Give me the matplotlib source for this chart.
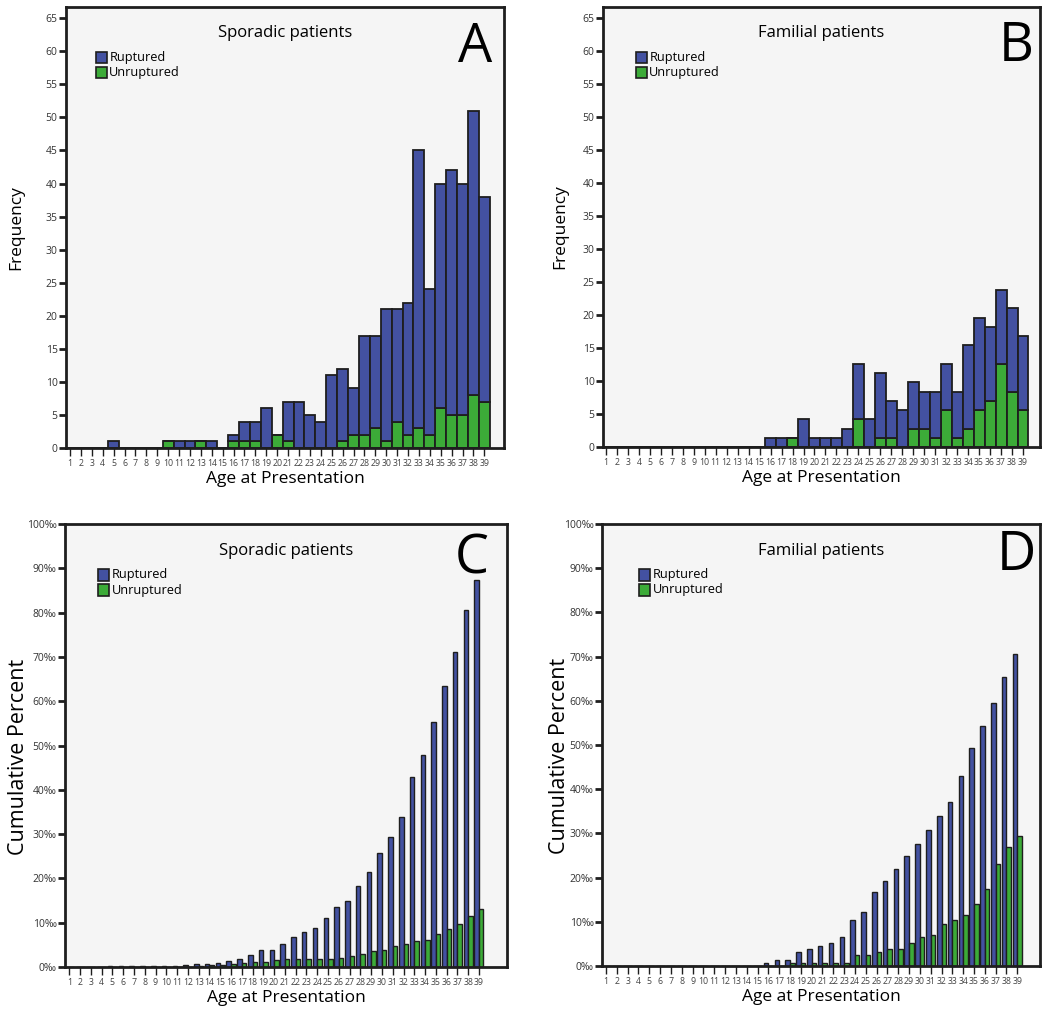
import matplotlib.pyplot as plt
import numpy as np

plt.rcParams['font.family'] = ['Open Sans', 'DejaVu Sans']

ages = np.arange(1, 40)
age_labels = [str(a) for a in ages]

# panel A: sporadic frequency (total height, unruptured part)
spor_total = [0, 0, 0, 0, 1, 0, 0, 0, 0, 1, 1, 1, 1, 1, 0, 2, 4, 4, 6, 2,
              7, 7, 5, 4, 11, 12, 9, 17, 17, 21, 21, 22, 45, 24, 40, 42, 40, 51, 38]
spor_unrup = [0, 0, 0, 0, 0, 0, 0, 0, 0, 1, 0, 0, 1, 0, 0, 1, 1, 1, 0, 2,
              1, 0, 0, 0, 0, 1, 2, 2, 3, 1, 4, 2, 3, 2, 6, 5, 5, 8, 7]

# panel B: familial frequency
fam_total = [0, 0, 0, 0, 0, 0, 0, 0, 0, 0, 0, 0, 0, 0, 0, 1.4, 1.4, 1.4, 4.2, 1.4,
             1.4, 1.4, 2.8, 12.6, 4.2, 11.2, 7.0, 5.6, 9.8, 8.4, 8.4, 12.6, 8.4, 15.4,
             19.6, 18.2, 23.8, 21.0, 16.8]
fam_unrup = [0, 0, 0, 0, 0, 0, 0, 0, 0, 0, 0, 0, 0, 0, 0, 0, 0, 1.4, 0, 0,
             0, 0, 0, 4.2, 0, 1.4, 1.4, 0, 2.8, 2.8, 1.4, 5.6, 1.4, 2.8,
             5.6, 7.0, 12.6, 8.4, 5.6]

# panel C: sporadic cumulative percent
spor_cum_rup = [0, 0, 0, 0, 0.2, 0.2, 0.2, 0.2, 0.2, 0.2, 0.2, 0.5, 0.75, 0.75, 1.0,
                1.3, 1.9, 2.6, 3.8, 3.8, 5.2, 6.7, 7.8, 8.7, 11.1, 13.5, 15.0, 18.3,
                21.4, 25.7, 29.4, 33.8, 43.0, 47.9, 55.2, 63.4, 71.0, 80.5, 87.3]
spor_cum_unrup = [0, 0, 0, 0, 0, 0, 0, 0, 0, 0, 0, 0, 0.2, 0.45, 0.45,
                  0.7, 1.0, 1.2, 1.2, 1.65, 1.9, 1.9, 1.9, 1.9, 1.9, 2.1, 2.5, 2.9,
                  3.6, 3.8, 4.7, 5.1, 5.8, 6.2, 7.5, 8.6, 9.8, 11.4, 13.0]

# panel D: familial cumulative percent
fam_cum_rup = [0, 0, 0, 0, 0, 0, 0, 0, 0, 0, 0, 0, 0, 0, 0, 0.75, 1.4, 1.4, 3.2, 3.9,
               4.6, 5.2, 6.6, 10.3, 12.2, 16.7, 19.3, 21.9, 25.0, 27.6, 30.8, 34.0,
               37.2, 43.0, 49.3, 54.4, 59.6, 65.3, 70.5]
fam_cum_unrup = [0, 0, 0, 0, 0, 0, 0, 0, 0, 0, 0, 0, 0, 0, 0, 0, 0, 0.6, 0.6, 0.6,
                 0.6, 0.6, 0.6, 2.6, 2.6, 3.2, 3.9, 3.9, 5.2, 6.5, 7.1, 9.6, 10.3,
                 11.6, 14.1, 17.4, 23.1, 26.9, 29.5]

BLUE = '#4351a1'
GREEN = '#3cab38'
EDGE = '#1e1e1e'
BG = '#f5f5f5'

W, H = 1042, 1010
fig = plt.figure(figsize=(W / 100, H / 100), dpi=100)


def make_ax(l, r, t, b):
    return fig.add_axes([l / W, 1 - b / H, (r - l) / W, (b - t) / H])


def style(ax, title, letter, xlim, ylim, yticks, ylabels, ylab, ylab_fs, leg_x, ylab_xy, let_xy):
    ax.set_facecolor(BG)
    for s in ax.spines.values():
        s.set_linewidth(2)
        s.set_color(EDGE)
    ax.set_xlim(*xlim)
    ax.set_ylim(*ylim)
    ax.set_xticks(ages)
    ax.set_xticklabels(age_labels, fontsize=6.3, color='#444444')
    ax.tick_params(axis='x', direction='out', length=6, width=1, pad=2, color=EDGE)
    ax.set_yticks(yticks)
    ax.set_yticklabels(ylabels, fontsize=7.5, color='#333333')
    ax.tick_params(axis='y', direction='out', length=5, width=2, pad=1, color=EDGE)
    ax.set_xlabel('Age at Presentation', fontsize=12.5, labelpad=2)
    ax.set_ylabel(ylab, fontsize=ylab_fs)
    ax.yaxis.set_label_coords(*ylab_xy)
    ax.text(0.5, 0.94, title, transform=ax.transAxes, ha='center', va='center', fontsize=12)
    ax.text(let_xy[0], let_xy[1], letter, transform=ax.transAxes, ha='right',
            va='baseline', fontsize=39)
    # legend
    for i, (lab, col) in enumerate([('Ruptured', BLUE), ('Unruptured', GREEN)]):
        y = 0.885 - i * 0.034
        ax.add_patch(plt.Rectangle((leg_x, y - 0.013), 0.025, 0.026, transform=ax.transAxes,
                                   facecolor=col, edgecolor=EDGE, lw=1.2, clip_on=False))
        ax.text(leg_x + 0.031, y, lab, transform=ax.transAxes, ha='left', va='center', fontsize=9.2)


freq_ticks = np.arange(0, 70, 5)
pct_ticks = np.arange(0, 110, 10)
pct_labels = ['%d‰' % v for v in pct_ticks]

# A
ax = make_ax(66, 504, 7, 448)
rup = np.array(spor_total) - np.array(spor_unrup)
ax.bar(ages, spor_unrup, width=1, color=GREEN, edgecolor=EDGE, lw=1.3)
ax.bar(ages, rup, bottom=spor_unrup, width=1, color=BLUE, edgecolor=EDGE, lw=1.3)
style(ax, 'Sporadic patients', 'A', (0.63, 40.8), (0, 66.7), freq_ticks,
      [str(v) for v in freq_ticks], 'Frequency', 12.5, 0.068, (-0.096, 0.5), (0.973, 0.875))

# B
ax = make_ax(603, 1040, 7, 447)
rup = np.array(fam_total) - np.array(fam_unrup)
ax.bar(ages, fam_unrup, width=1, color=GREEN, edgecolor=EDGE, lw=1.3)
ax.bar(ages, rup, bottom=fam_unrup, width=1, color=BLUE, edgecolor=EDGE, lw=1.3)
style(ax, 'Familial patients', 'B', (0.73, 40.55), (0, 66.7), freq_ticks,
      [str(v) for v in freq_ticks], 'Frequency', 12.5, 0.075, (-0.08, 0.5), (0.986, 0.877))

# C
ax = make_ax(65, 507, 524, 967)
ax.bar(ages - 0.21, spor_cum_rup, width=0.42, color=BLUE, edgecolor=EDGE, lw=1)
ax.bar(ages + 0.21, spor_cum_unrup, width=0.42, color=GREEN, edgecolor=EDGE, lw=1)
style(ax, 'Sporadic patients', 'C', (0.6, 41.6), (0, 100), pct_ticks, pct_labels,
      'Cumulative Percent', 15.5, 0.075, (-0.082, 0.475), (0.959, 0.889))

# D
ax = make_ax(602, 1040, 524, 966)
ax.bar(ages - 0.21, fam_cum_rup, width=0.42, color=BLUE, edgecolor=EDGE, lw=1)
ax.bar(ages + 0.21, fam_cum_unrup, width=0.42, color=GREEN, edgecolor=EDGE, lw=1)
style(ax, 'Familial patients', 'D', (0.63, 41.1), (0, 100), pct_ticks, pct_labels,
      'Cumulative Percent', 15.5, 0.085, (-0.073, 0.475), (0.99, 0.896))

fig.savefig('out.png', dpi=100, facecolor='white')
